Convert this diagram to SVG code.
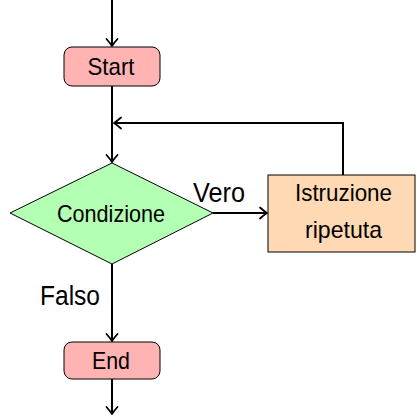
<svg xmlns="http://www.w3.org/2000/svg" width="417" height="416" viewBox="0 0 417 416">
  <defs>
    <marker id="arrow" markerUnits="userSpaceOnUse" viewBox="-10 -7 12 14" markerWidth="12" markerHeight="14" refX="0" refY="0" orient="auto">
      <path d="M -7 -5.5 Q -2.5 -1.5 0 0 Q -2.5 1.5 -7 5.5" fill="none" stroke="#000" stroke-width="1.8" stroke-linecap="round" stroke-linejoin="round"/>
    </marker>
  </defs>
  <style>
    .conn { fill: none; stroke: #000; stroke-width: 2; marker-end: url(#arrow); }
    .node { stroke: #000; stroke-width: 1; }
    .terminal { fill: #ffb3b3; }
    .decision { fill: #b3ffb3; }
    .process { fill: #ffd9b3; }
    text { font-family: "Liberation Sans", Arial, sans-serif; fill: #000; text-anchor: middle; }
    .lbl { font-size: 24px; }
    .edge { font-size: 27px; }
  </style>
  <rect width="417" height="416" fill="#fff"/>

  <g id="connectors">
    <path class="conn" d="M 112 0 L 112 46"/>
    <path class="conn" d="M 112 86 L 112 162"/>
    <path class="conn" d="M 213 213 L 267 213"/>
    <path class="conn" d="M 343 175 L 343 123 L 114 123"/>
    <path class="conn" d="M 112 264 L 112 341"/>
    <path class="conn" d="M 112 379 L 112 414"/>
    <text class="edge" x="219" y="202" textLength="52" lengthAdjust="spacingAndGlyphs">Vero</text>
    <text class="edge" x="70" y="305" textLength="60" lengthAdjust="spacingAndGlyphs">Falso</text>
  </g>

  <g id="start">
    <rect class="node terminal" x="64" y="47" width="96" height="39" rx="8"/>
    <text class="lbl" x="111" y="75" textLength="47" lengthAdjust="spacingAndGlyphs">Start</text>
  </g>

  <g id="condizione">
    <polygon class="node decision" points="112,163 213,213 112,264 10,213"/>
    <text class="lbl" x="111" y="221.5" textLength="108" lengthAdjust="spacingAndGlyphs">Condizione</text>
  </g>

  <g id="istruzione">
    <rect class="node process" x="268" y="175" width="147" height="77"/>
    <text class="lbl" x="343.5" y="201" textLength="97" lengthAdjust="spacingAndGlyphs">Istruzione</text>
    <text class="lbl" x="343.5" y="237.5" textLength="77" lengthAdjust="spacingAndGlyphs">ripetuta</text>
  </g>

  <g id="end">
    <rect class="node terminal" x="64" y="342" width="96" height="37" rx="8"/>
    <text class="lbl" x="111" y="369" textLength="38" lengthAdjust="spacingAndGlyphs">End</text>
  </g>
</svg>
